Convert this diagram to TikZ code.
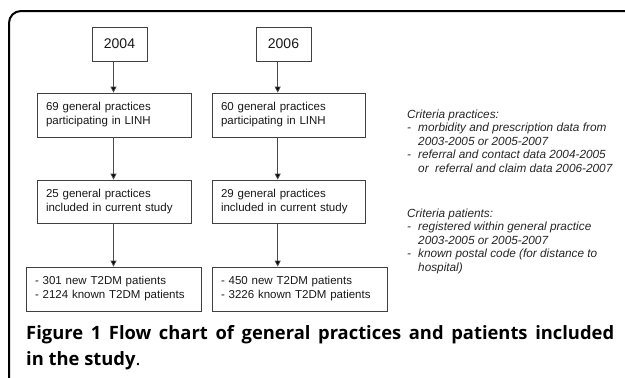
\documentclass[tikz,border=0pt]{standalone}
\usepackage{fontspec}
\setmainfont{Liberation Sans}
\newfontfamily\capfont{Open Sans}
\usetikzlibrary{arrows.meta}
\newlength\capwidth
\AtBeginDocument{%
  \settowidth\capwidth{\capfont\bfseries\fontsize{16}{25}\selectfont Figure 1 Flow chart of general practices and patients included}%
  \pgfmathsetmacro\capsize{16*562/\capwidth}%
}
\begin{document}
\begin{tikzpicture}[x=1pt,y=-1pt,
  box/.style={draw=black!75, line width=0.8pt, rectangle, inner xsep=9pt, inner ysep=0pt, align=left, font=\fontsize{11.5}{14}\selectfont, text=black!90},
  yearbox/.style={draw=black!75, line width=0.8pt, inner sep=0pt, minimum width=55pt, minimum height=34pt, font=\fontsize{14}{16}\selectfont, text=black!90},
  arr/.style={draw=black!70, line width=0.8pt, -{Triangle[length=6pt,width=6pt,fill=black]}},
  crit/.style={anchor=base west, inner sep=0pt, text=black!85},
  critfont/.style={font=\fontsize{11.8}{#1}\selectfont\itshape},
  captxt/.style={anchor=base west, inner sep=0pt, font=\capfont\fontsize{\capsize}{25}\selectfont, text=black}
]
\useasboundingbox (0,0) rectangle (625,378);
\fill[white] (0,0) rectangle (625,378);
\draw[line width=2pt, rounded corners=12pt] (630,11) -- (9,11) -- (9,385);

\coordinate (cl) at (113.5,0);
\coordinate (cr) at (277.7,0);

\node[yearbox] (y04) at (119.5,44) {2004};
\node[yearbox] (y06) at (283.5,44) {2006};

\node[box, minimum width=154pt, minimum height=44pt, text width=136pt] (p69) at (114,115) {69 general practices\\participating in LINH};
\node[box, minimum width=153pt, minimum height=44pt, text width=135pt] (p60) at (288.5,115) {60 general practices\\participating in LINH};
\node[box, minimum width=154pt, minimum height=43pt, text width=136pt] (p25) at (114,201.5) {25 general practices\\included in current study};
\node[box, minimum width=153pt, minimum height=43pt, text width=135pt] (p29) at (288.5,201.5) {29 general practices\\included in current study};
\node[box, minimum width=175pt, minimum height=44pt, text width=157pt] (t301) at (113.5,289) {- 301 new T2DM patients\\- 2124 known T2DM patients};
\node[box, minimum width=175pt, minimum height=44pt, text width=157pt] (t450) at (299.5,289) {- 450 new T2DM patients\\- 3226 known T2DM patients};

\draw[arr] (y04.south -| cl) -- (p69.north -| cl);
\draw[arr] (p69.south -| cl) -- (p25.north -| cl);
\draw[arr] (p25.south -| cl) -- (t301.north -| cl);
\draw[arr] (y06.south -| cr) -- (p60.north -| cr);
\draw[arr] (p60.south -| cr) -- (p29.north -| cr);
\draw[arr] (p29.south -| cr) -- (t450.north -| cr);

\node[crit, critfont=13.5] (critprac) at (407,118) {\parbox[t]{215pt}{Criteria practices:\\
\makebox[11pt][l]{-}morbidity and prescription data from\\
\hspace*{11pt}2003-2005 or 2005-2007\\
\makebox[11pt][l]{-}referral and contact data 2004-2005\\
\hspace*{11pt}or\ \ referral and claim data 2006-2007}};

\node[crit, critfont=13.5] (critpat) at (407,217) {\parbox[t]{215pt}{Criteria patients:\\
\makebox[11pt][l]{-}registered within general practice\\
\hspace*{11pt}2003-2005 or 2005-2007\\
\makebox[11pt][l]{-}known postal code (for distance to\\
\hspace*{11pt}hospital)}};

\node[captxt] (cap1) at (26,339) {\makebox[588pt][s]{\bfseries Figure 1 Flow chart of general practices and patients included}};
\node[captxt] (cap2) at (26,365) {{\bfseries in the study}.};
\end{tikzpicture}
\end{document}
